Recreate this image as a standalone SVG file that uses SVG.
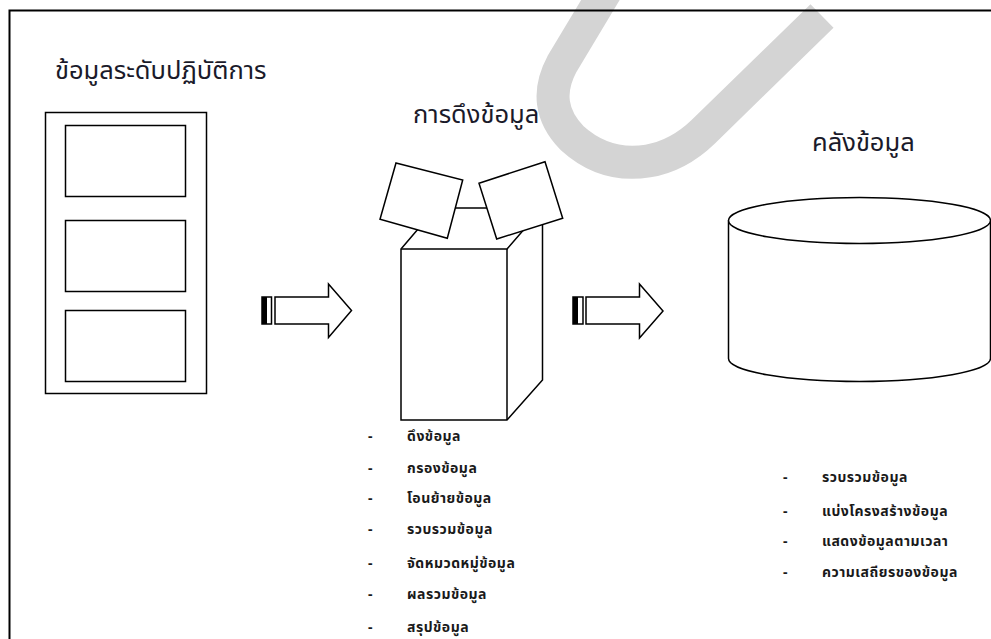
<svg xmlns="http://www.w3.org/2000/svg" width="991" height="639" viewBox="0 0 991 639">
<style>
.ln{fill:#fff;stroke:#000;stroke-width:1.5;stroke-linejoin:miter}
.title{font-family:"Tahoma","Noto Sans Thai","Noto Sans","DejaVu Sans",sans-serif;font-size:25.5px;fill:#1a1a2a}
.item{font-family:"Tahoma","Noto Sans Thai","Noto Sans","DejaVu Sans",sans-serif;font-size:14px;letter-spacing:0.5px;font-weight:bold;fill:#1a1a1a}
</style>
<rect x="0" y="0" width="991" height="639" fill="#fff"/>
<path d="M 610 -16 L 562 64 Q 540 105 572 138 Q 605 168 648 161 Q 678 156 703 132 L 822 16" fill="none" stroke="#d4d4d4" stroke-width="33"/>
<rect x="9.5" y="10.5" width="1000" height="650" fill="none" stroke="#000" stroke-width="2"/>

<g id="operational">
<text class="title" x="55" y="79">ข้อมูลระดับปฏิบัติการ</text>
<rect class="ln" x="45.5" y="112.5" width="161" height="281"/>
<rect class="ln" x="65.5" y="125.5" width="120" height="71"/>
<rect class="ln" x="65.5" y="220.5" width="120" height="71"/>
<rect class="ln" x="65.5" y="310.5" width="120" height="71"/>
</g>

<g id="extraction">
<text class="title" x="413" y="123">การดึงข้อมูล</text>
<polygon class="ln" points="401,249 436,208 542.5,208 542.5,380 507,420 401,420"/>
<polyline class="ln" fill="none" points="401,249 507,249 542.5,208"/>
<line class="ln" x1="507" y1="249" x2="507" y2="420"/>
<polygon class="ln" points="396,163 462.7,180 447.3,238.3 380,219.3"/>
<polygon class="ln" points="479,183.3 545,161.7 562.7,218.3 496.7,239"/>
<g class="item">
<text x="368" y="441">-</text><text x="407" y="441">ดึงข้อมูล</text>
<text x="368" y="473">-</text><text x="407" y="473">กรองข้อมูล</text>
<text x="368" y="503">-</text><text x="407" y="503">โอนย้ายข้อมูล</text>
<text x="368" y="534">-</text><text x="407" y="534">รวบรวมข้อมูล</text>
<text x="368" y="568">-</text><text x="407" y="568">จัดหมวดหมู่ข้อมูล</text>
<text x="368" y="599">-</text><text x="407" y="599">ผลรวมข้อมูล</text>
<text x="368" y="632">-</text><text x="407" y="632">สรุปข้อมูล</text>
</g>
</g>

<g id="warehouse">
<text class="title" x="812" y="151">คลังข้อมูล</text>
<path class="ln" d="M 728.5 220.5 L 728.5 358.5 A 131 23 0 0 0 990.5 358.5 L 990.5 220.5"/>
<ellipse class="ln" cx="859.5" cy="220.5" rx="131" ry="23"/>
<g class="item">
<text x="783" y="482">-</text><text x="822" y="482">รวบรวมข้อมูล</text>
<text x="783" y="516">-</text><text x="822" y="516">แบ่งโครงสร้างข้อมูล</text>
<text x="783" y="546">-</text><text x="822" y="546">แสดงข้อมูลตามเวลา</text>
<text x="783" y="577">-</text><text x="822" y="577">ความเสถียรของข้อมูล</text>
</g>
</g>

<g id="connectors">
<g>
<rect x="262" y="297" width="5" height="27" fill="#000"/>
<rect x="262" y="297" width="9.5" height="27" fill="none" stroke="#000" stroke-width="1.5"/>
<polygon class="ln" points="275,297 328.5,297 328.5,284 351.5,310.5 328.5,337.5 328.5,324 275,324"/>
</g>
<g>
<rect x="573" y="297" width="5" height="27" fill="#000"/>
<rect x="573" y="297" width="10" height="27" fill="none" stroke="#000" stroke-width="1.5"/>
<polygon class="ln" points="586,297 639.5,297 639.5,284 663,311 639.5,338 639.5,324 586,324"/>
</g>
</g>
</svg>
